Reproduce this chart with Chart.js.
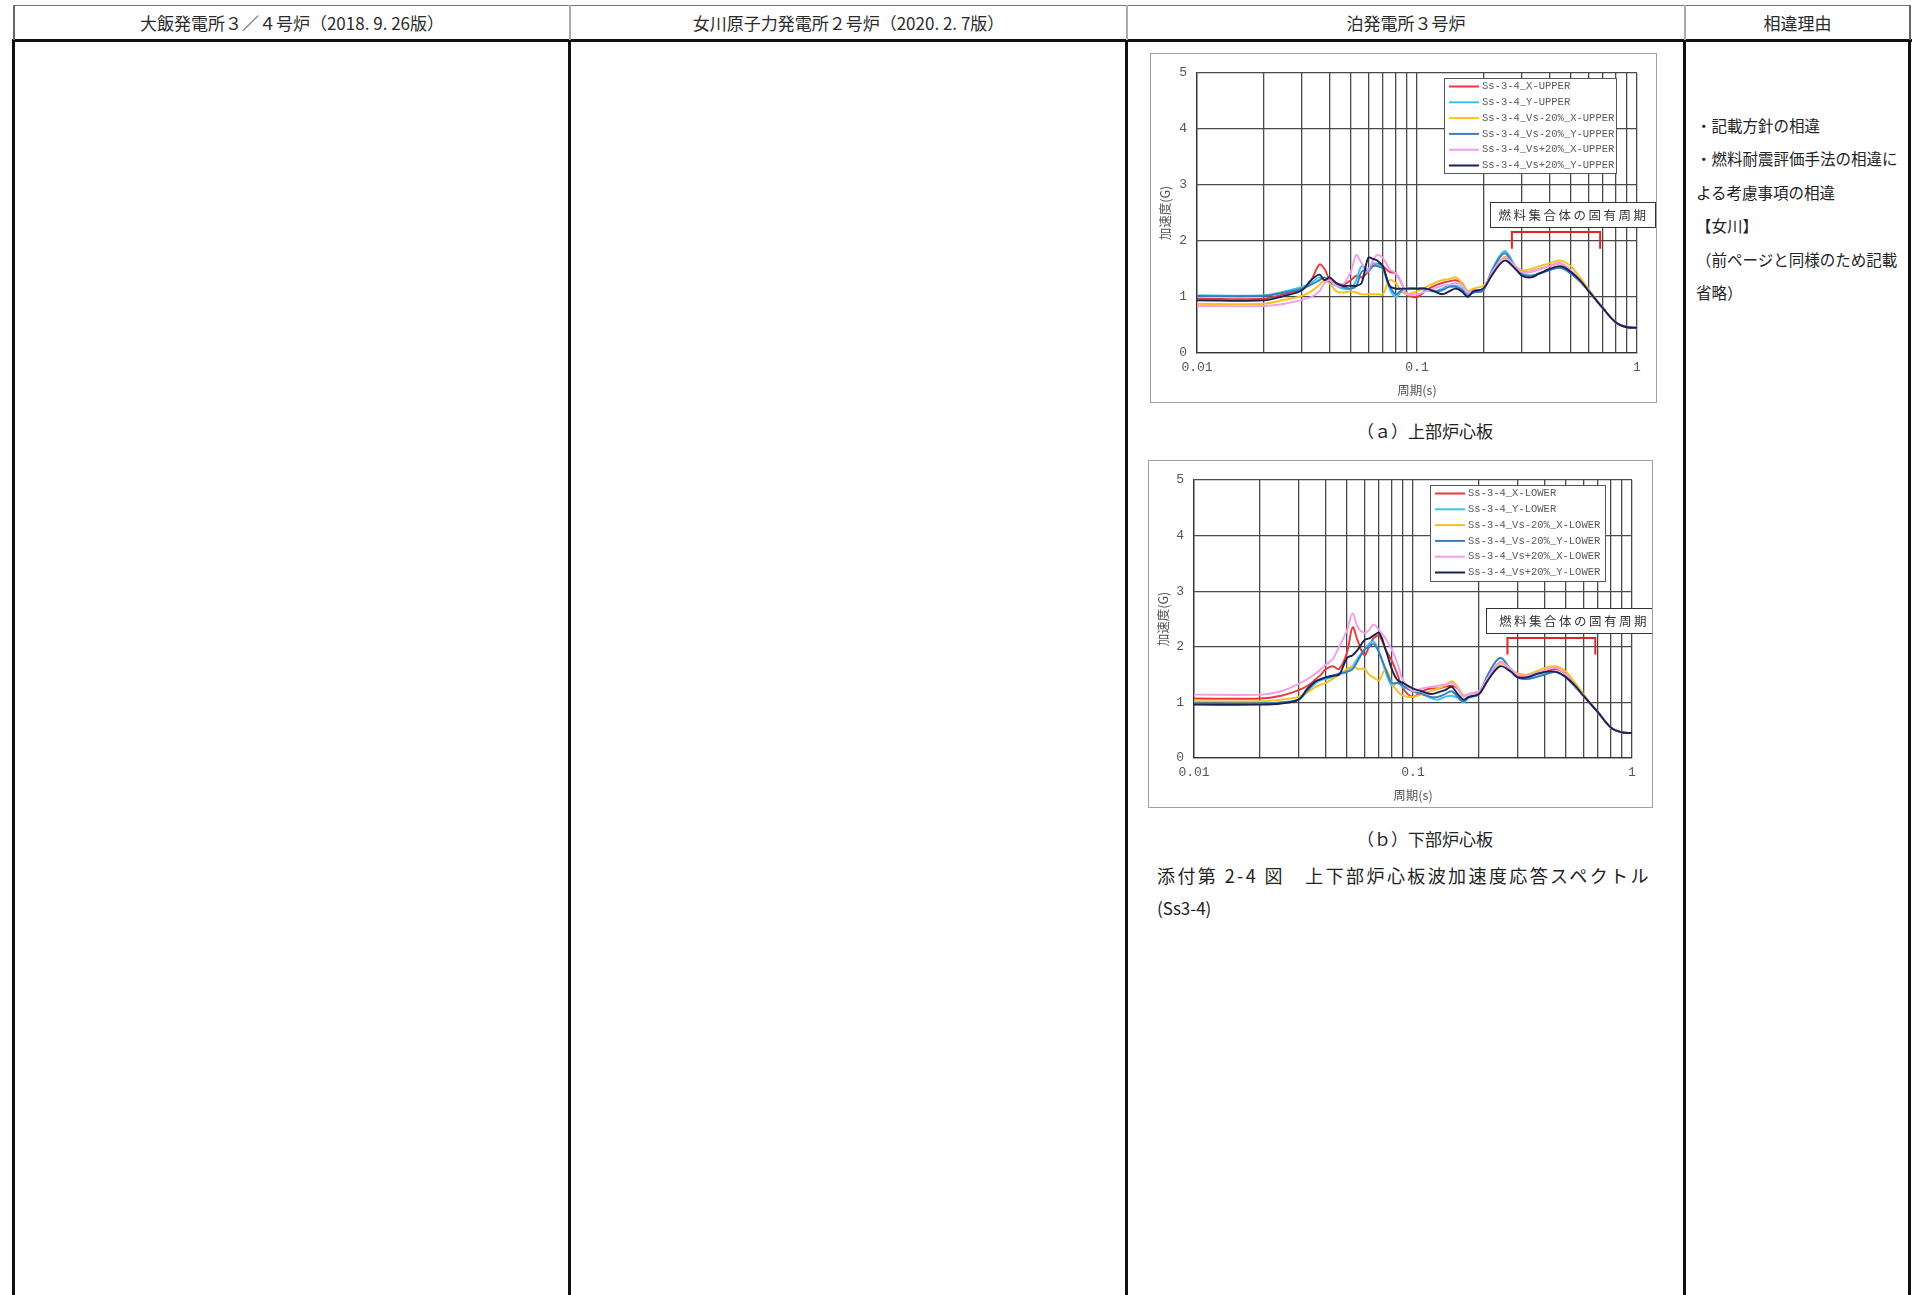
<!DOCTYPE html>
<html lang="ja">
<head>
<meta charset="utf-8">
<title>添付第2-4図 上下部炉心板波加速度応答スペクトル</title>
<script src="https://cdn.jsdelivr.net/npm/chart.js@4.4.1/dist/chart.umd.min.js"></script>
<style>
  body { margin: 0; background: #fff; font-family: "Noto Sans CJK JP", sans-serif; color: #222; }
  #page { position: relative; width: 1913px; height: 1295px; overflow: hidden; background: #fff; }
  .ln { position: absolute; }
  .head { position: absolute; top: 5px; height: 35px; line-height: 35px; text-align: center; font-size: 17px; color: #2a2a2a; }
  .frame { position: absolute; border: 1px solid #a0a0a0; background: #fff; }
  .frame canvas { display: block; }
  .cap { position: absolute; font-size: 17px; color: #222; white-space: nowrap; }
  #reason { position: absolute; left: 1696px; top: 109px; font-size: 15.5px; line-height: 33.4px; color: #222; white-space: nowrap; }
</style>
</head>
<body>
<div id="page">
  <!-- 表の罫線 -->
  <div class="ln" style="left:13px;top:5px;width:1898px;height:1px;background:#777"></div>
  <div class="ln" style="left:12px;top:39px;width:1900px;height:3px;background:#111"></div>
  <div class="ln" style="left:13px;top:5px;width:2px;height:35px;background:#666"></div>
  <div class="ln" style="left:569px;top:5px;width:2px;height:35px;background:#aaa"></div>
  <div class="ln" style="left:1126px;top:5px;width:2px;height:35px;background:#aaa"></div>
  <div class="ln" style="left:1684px;top:5px;width:2px;height:35px;background:#aaa"></div>
  <div class="ln" style="left:1909px;top:5px;width:2px;height:35px;background:#666"></div>
  <div class="ln" style="left:12px;top:40px;width:3px;height:1255px;background:#111"></div>
  <div class="ln" style="left:568px;top:40px;width:3px;height:1255px;background:#111"></div>
  <div class="ln" style="left:1125px;top:40px;width:3px;height:1255px;background:#111"></div>
  <div class="ln" style="left:1683px;top:40px;width:3px;height:1255px;background:#111"></div>
  <div class="ln" style="left:1908px;top:40px;width:3px;height:1255px;background:#111"></div>

  <div class="head" style="left:14px;width:556px">大飯発電所３／４号炉（2018. 9. 26版）</div>
  <div class="head" style="left:570px;width:557px">女川原子力発電所２号炉（2020. 2. 7版）</div>
  <div class="head" style="left:1127px;width:558px">泊発電所３号炉</div>
  <div class="head" style="left:1685px;width:225px">相違理由</div>

  <div class="frame" style="left:1150px;top:53px;width:505px;height:348px">
    <canvas id="upperChart" width="505" height="348"></canvas>
  </div>
  <div class="cap" style="left:1320px;top:418px;width:210px;text-align:center">（ａ）上部炉心板</div>

  <div class="frame" style="left:1148px;top:460px;width:503px;height:346px">
    <canvas id="lowerChart" width="503" height="346"></canvas>
  </div>
  <div class="cap" style="left:1320px;top:826px;width:210px;text-align:center">（ｂ）下部炉心板</div>
  <div class="cap" style="left:1157px;top:862px;font-size:18px;letter-spacing:2.4px">添付第 2-4 図　上下部炉心板波加速度応答スペクトル</div>
  <div class="cap" style="left:1157px;top:895px">(Ss3-4)</div>

  <div id="reason">
    ・記載方針の相違<br>
    ・燃料耐震評価手法の相違に<br>
    よる考慮事項の相違<br>
    【女川】<br>
    （前ページと同様のため記載<br>
    省略）
  </div>
</div>

<script>
// 周期 (s)
const periods = [0.01, 0.02, 0.025, 0.03, 0.033, 0.036, 0.038, 0.04, 0.043, 0.046,
  0.05, 0.053, 0.056, 0.06, 0.063, 0.066, 0.07, 0.075, 0.08, 0.085,
  0.09, 0.1, 0.11, 0.12, 0.13, 0.14, 0.15, 0.16, 0.17, 0.18,
  0.2, 0.22, 0.25, 0.28, 0.3, 0.33, 0.36, 0.4, 0.45, 0.5,
  0.55, 0.6, 0.7, 0.8, 0.9, 1.0];

// (a) 上部炉心板 加速度 (G)
const upperX = [0.97, 0.97, 1.05, 1.15, 1.3, 1.58, 1.5, 1.32, 1.25, 1.22, 1.3, 1.38, 1.35, 1.45, 1.55, 1.6, 1.55, 1.45, 1.42, 1.25, 1.05, 1.0, 1.12, 1.2, 1.25, 1.28, 1.3, 1.25, 1.1, 1.12, 1.15, 1.45, 1.7, 1.55, 1.45, 1.45, 1.5, 1.55, 1.6, 1.45, 1.3, 1.12, 0.8, 0.55, 0.46, 0.45];
const upperY = [1.03, 1.03, 1.1, 1.18, 1.25, 1.35, 1.3, 1.25, 1.2, 1.15, 1.15, 1.3, 1.55, 1.45, 1.6, 1.58, 1.5, 1.15, 1.0, 1.1, 1.15, 1.15, 1.12, 1.1, 1.15, 1.2, 1.2, 1.15, 1.05, 1.08, 1.12, 1.5, 1.82, 1.55, 1.42, 1.38, 1.42, 1.48, 1.52, 1.42, 1.28, 1.12, 0.8, 0.55, 0.46, 0.45];
const upperMinusX = [0.88, 0.88, 0.95, 1.02, 1.1, 1.22, 1.3, 1.25, 1.1, 1.08, 1.1, 1.08, 1.05, 1.05, 1.05, 1.05, 1.05, 1.3, 1.25, 1.1, 1.05, 1.1, 1.18, 1.25, 1.3, 1.32, 1.35, 1.25, 1.1, 1.15, 1.2, 1.4, 1.72, 1.55, 1.48, 1.5, 1.55, 1.6, 1.65, 1.55, 1.35, 1.15, 0.8, 0.55, 0.46, 0.45];
const upperMinusY = [1.02, 1.02, 1.08, 1.15, 1.22, 1.3, 1.35, 1.28, 1.22, 1.18, 1.15, 1.2, 1.45, 1.5, 1.55, 1.55, 1.5, 1.2, 1.05, 1.12, 1.15, 1.15, 1.15, 1.1, 1.12, 1.18, 1.18, 1.12, 1.02, 1.08, 1.12, 1.48, 1.78, 1.52, 1.4, 1.38, 1.42, 1.48, 1.52, 1.42, 1.28, 1.12, 0.8, 0.55, 0.46, 0.45];
const upperPlusX = [0.84, 0.84, 0.88, 0.95, 1.0, 1.1, 1.25, 1.3, 1.2, 1.22, 1.45, 1.75, 1.6, 1.5, 1.65, 1.75, 1.7, 1.5, 1.42, 1.25, 1.05, 1.05, 1.1, 1.15, 1.2, 1.22, 1.25, 1.2, 1.08, 1.12, 1.15, 1.45, 1.7, 1.55, 1.45, 1.45, 1.5, 1.55, 1.6, 1.48, 1.3, 1.12, 0.8, 0.55, 0.46, 0.45];
const upperPlusY = [0.94, 0.94, 1.02, 1.12, 1.3, 1.4, 1.3, 1.35, 1.25, 1.2, 1.2, 1.2, 1.25, 1.7, 1.68, 1.65, 1.55, 1.2, 1.15, 1.15, 1.15, 1.15, 1.15, 1.1, 1.05, 1.1, 1.15, 1.1, 1.0, 1.1, 1.15, 1.4, 1.65, 1.5, 1.38, 1.35, 1.42, 1.5, 1.55, 1.45, 1.3, 1.12, 0.8, 0.55, 0.46, 0.45];

// (b) 下部炉心板 加速度 (G)
const lowerX = [1.07, 1.07, 1.12, 1.22, 1.3, 1.42, 1.5, 1.6, 1.65, 1.6, 1.9, 2.35, 2.1, 1.85, 2.0, 2.15, 2.2, 1.95, 1.75, 1.5, 1.25, 1.1, 1.2, 1.25, 1.25, 1.28, 1.3, 1.25, 1.12, 1.15, 1.2, 1.45, 1.72, 1.6, 1.48, 1.45, 1.5, 1.55, 1.6, 1.5, 1.3, 1.12, 0.82, 0.55, 0.46, 0.45];
const lowerY = [0.98, 0.98, 1.0, 1.05, 1.2, 1.35, 1.4, 1.42, 1.45, 1.5, 1.55, 1.65, 1.8, 1.95, 2.05, 2.1, 1.9, 1.55, 1.3, 1.35, 1.28, 1.2, 1.15, 1.08, 1.05, 1.1, 1.12, 1.08, 1.0, 1.08, 1.15, 1.5, 1.8, 1.58, 1.45, 1.42, 1.45, 1.52, 1.55, 1.45, 1.28, 1.12, 0.82, 0.55, 0.46, 0.45];
const lowerMinusX = [1.02, 1.02, 1.05, 1.1, 1.18, 1.28, 1.32, 1.35, 1.42, 1.5, 1.6, 1.65, 1.6, 1.6, 1.5, 1.45, 1.4, 1.6, 1.35, 1.2, 1.12, 1.1, 1.15, 1.2, 1.25, 1.3, 1.38, 1.28, 1.12, 1.15, 1.2, 1.4, 1.7, 1.6, 1.52, 1.5, 1.55, 1.62, 1.65, 1.55, 1.35, 1.15, 0.82, 0.55, 0.46, 0.45];
const lowerMinusY = [0.98, 0.98, 1.0, 1.05, 1.22, 1.38, 1.42, 1.45, 1.48, 1.52, 1.55, 1.6, 1.75, 1.95, 2.0, 2.05, 1.9, 1.6, 1.35, 1.35, 1.3, 1.2, 1.15, 1.1, 1.1, 1.15, 1.2, 1.1, 1.02, 1.1, 1.15, 1.5, 1.8, 1.58, 1.45, 1.42, 1.45, 1.5, 1.55, 1.45, 1.28, 1.12, 0.82, 0.55, 0.46, 0.45];
const lowerPlusX = [1.14, 1.14, 1.2, 1.33, 1.42, 1.52, 1.6, 1.68, 1.78, 2.0, 2.3, 2.6, 2.35, 2.25, 2.3, 2.4, 2.3, 2.15, 1.95, 1.7, 1.4, 1.2, 1.25, 1.28, 1.3, 1.32, 1.35, 1.25, 1.1, 1.15, 1.2, 1.45, 1.72, 1.6, 1.5, 1.48, 1.52, 1.58, 1.62, 1.5, 1.3, 1.12, 0.82, 0.55, 0.46, 0.45];
const lowerPlusY = [0.96, 0.96, 0.98, 1.05, 1.25, 1.38, 1.42, 1.45, 1.48, 1.5, 1.8, 1.85, 1.95, 2.12, 2.15, 2.2, 2.25, 1.95, 1.6, 1.4, 1.35, 1.25, 1.2, 1.15, 1.18, 1.22, 1.28, 1.15, 1.05, 1.1, 1.15, 1.4, 1.65, 1.55, 1.45, 1.45, 1.5, 1.55, 1.55, 1.45, 1.3, 1.12, 0.82, 0.55, 0.46, 0.45];

const upperLabels = ['Ss-3-4_X-UPPER', 'Ss-3-4_Y-UPPER', 'Ss-3-4_Vs-20%_X-UPPER', 'Ss-3-4_Vs-20%_Y-UPPER', 'Ss-3-4_Vs+20%_X-UPPER', 'Ss-3-4_Vs+20%_Y-UPPER'];
const lowerLabels = ['Ss-3-4_X-LOWER', 'Ss-3-4_Y-LOWER', 'Ss-3-4_Vs-20%_X-LOWER', 'Ss-3-4_Vs-20%_Y-LOWER', 'Ss-3-4_Vs+20%_X-LOWER', 'Ss-3-4_Vs+20%_Y-LOWER'];

// 目盛
const periodTicks = [0.01, 0.02, 0.03, 0.04, 0.05, 0.06, 0.07, 0.08, 0.09,
  0.1, 0.2, 0.3, 0.4, 0.5, 0.6, 0.7, 0.8, 0.9, 1];
const periodTickLabels = ['0.01', '', '', '', '', '', '', '', '',
  '0.1', '', '', '', '', '', '', '', '', '1'];
const accTicks = [0, 1, 2, 3, 4, 5];

// 燃料集合体の固有周期 (注記の範囲)
const fuelPeriodRange = [0.27, 0.68];
const fuelNote = '燃料集合体の固有周期';

const lineColors = ['#e8383d', '#3cc3ef', '#f5c21b', '#3a7cc0', '#f29ee8', '#1b2150'];

// 凡例 (枠付き、プロット内右上)
const boxLegend = {
    id: 'boxLegend',
    afterDraw(chart, args, opts) {
        const ctx = chart.ctx;
        const area = chart.chartArea;
        const left = Math.round(area.right - opts.fromRight);
        const top = Math.round(area.top + opts.fromTop);
        ctx.save();
        ctx.fillStyle = '#fff';
        ctx.fillRect(left, top, opts.width, opts.height);
        ctx.strokeStyle = '#555';
        ctx.lineWidth = 1;
        ctx.strokeRect(left + 0.5, top + 0.5, opts.width, opts.height);
        ctx.font = '10.5px "Liberation Mono", monospace';
        ctx.textBaseline = 'middle';
        chart.data.datasets.forEach((ds, i) => {
            const y = top + 8.5 + i * 15.8;
            ctx.strokeStyle = ds.borderColor;
            ctx.lineWidth = 2;
            ctx.beginPath();
            ctx.moveTo(left + 5, y);
            ctx.lineTo(left + 35, y);
            ctx.stroke();
            ctx.fillStyle = '#5a5a5a';
            ctx.fillText(ds.label, left + 38, y);
        });
        ctx.restore();
    }
};

// 固有周期の注記と括弧
const periodNote = {
    id: 'periodNote',
    afterDraw(chart, args, opts) {
        const ctx = chart.ctx;
        const xs = chart.scales.x, ys = chart.scales.y;
        ctx.save();
        // 括弧
        const x1 = xs.getPixelForValue(fuelPeriodRange[0]);
        const x2 = xs.getPixelForValue(fuelPeriodRange[1]);
        const yTop = ys.getPixelForValue(2.16);
        const yBot = ys.getPixelForValue(1.86);
        ctx.strokeStyle = '#e0242c';
        ctx.lineWidth = 2;
        ctx.beginPath();
        ctx.moveTo(x1, yBot);
        ctx.lineTo(x1, yTop);
        ctx.lineTo(x2, yTop);
        ctx.lineTo(x2, yBot);
        ctx.stroke();
        // 枠
        const bx = Math.round(xs.getPixelForValue(0.215));
        const by = Math.round(ys.getPixelForValue(2.7));
        const bh = Math.round(ys.getPixelForValue(2.25)) - by;
        const bw = opts.width;
        ctx.fillStyle = '#fff';
        ctx.fillRect(bx, by, bw, bh);
        ctx.strokeStyle = '#333';
        ctx.lineWidth = 1;
        ctx.strokeRect(bx + 0.5, by + 0.5, bw, bh);
        ctx.fillStyle = '#333';
        ctx.font = '12.5px "Noto Sans CJK JP", sans-serif';
        if ('letterSpacing' in ctx) ctx.letterSpacing = '2.5px';
        ctx.textAlign = 'center';
        ctx.textBaseline = 'middle';
        ctx.fillText(fuelNote, bx + bw / 2 + 1, by + bh / 2 + 1);
        ctx.restore();
    }
};

function makeChart(canvasId, labels, series, box) {
    const datasets = series.map((vals, i) => ({
        label: labels[i],
        data: periods.map((p, k) => ({ x: p, y: vals[k] })),
        borderColor: lineColors[i],
        backgroundColor: lineColors[i],
        borderWidth: 1.9,
        pointRadius: 0,
        tension: 0.35,
        fill: false,
        order: series.length - i
    }));
    return new Chart(document.getElementById(canvasId), {
        type: 'line',
        data: { datasets: datasets },
        options: {
            responsive: false,
            animation: false,
            devicePixelRatio: 1,
            layout: { padding: { top: box.top, right: box.right, left: 0, bottom: 0 } },
            plugins: {
                legend: { display: false },
                tooltip: { enabled: false },
                boxLegend: box.legend,
                periodNote: { width: box.noteWidth }
            },
            scales: {
                x: {
                    type: 'logarithmic',
                    min: 0.01,
                    max: 1,
                    afterBuildTicks: scale => { scale.ticks = periodTicks.map(v => ({ value: v })); },
                    afterFit: scale => { scale.height = box.bottom; },
                    ticks: {
                        autoSkip: false,
                        maxRotation: 0,
                        padding: 7,
                        color: '#555',
                        font: { family: '"Liberation Mono", monospace', size: 13 },
                        callback: (v, i) => periodTickLabels[i]
                    },
                    grid: { color: '#4a4a4a', lineWidth: 1.3, drawTicks: false },
                    border: { color: '#333', width: 1.3 },
                    title: {
                        display: true,
                        text: '周期(s)',
                        color: '#555',
                        font: { family: '"Noto Sans CJK JP", sans-serif', size: 12.5 },
                        padding: { top: 0, bottom: 4 }
                    }
                },
                y: {
                    min: 0,
                    max: 5,
                    afterBuildTicks: scale => { scale.ticks = accTicks.map(v => ({ value: v })); },
                    afterFit: scale => { scale.width = box.left; },
                    ticks: {
                        padding: 10,
                        color: '#555',
                        font: { family: '"Liberation Mono", monospace', size: 13 }
                    },
                    grid: { color: '#4a4a4a', lineWidth: 1.3, drawTicks: false },
                    border: { color: '#333', width: 1.3 },
                    title: {
                        display: true,
                        text: '加速度(G)',
                        color: '#555',
                        font: { family: '"Noto Sans CJK JP", sans-serif', size: 12.5 },
                        padding: { top: 7, bottom: 0 }
                    }
                }
            }
        },
        plugins: [periodNote, boxLegend]
    });
}

makeChart('upperChart', upperLabels,
    [upperX, upperY, upperMinusX, upperMinusY, upperPlusX, upperPlusY],
    { left: 46, top: 19, right: 19, bottom: 49, noteWidth: 165,
      legend: { fromRight: 193, fromTop: 5, width: 172, height: 95 } });

makeChart('lowerChart', lowerLabels,
    [lowerX, lowerY, lowerMinusX, lowerMinusY, lowerPlusX, lowerPlusY],
    { left: 45, top: 19, right: 20, bottom: 49, noteWidth: 174,
      legend: { fromRight: 202, fromTop: 5, width: 175, height: 96 } });
</script>
</body>
</html>
